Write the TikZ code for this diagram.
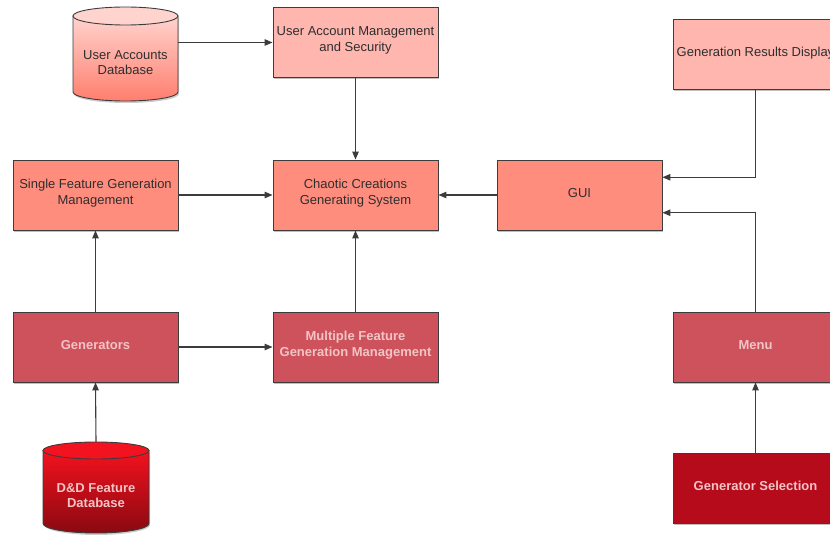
\documentclass[tikz,border=0pt]{standalone}
\usepackage{fontspec}
\setmainfont{Liberation Sans}
\usetikzlibrary{arrows.meta,shadows,calc}

\definecolor{lightpink}{HTML}{FFB6AE}
\definecolor{salmon}{HTML}{FF8D7E}
\definecolor{rose}{HTML}{CD525C}
\definecolor{darkred}{HTML}{B50B1A}
\definecolor{pale}{HTML}{F2C4C6}
\definecolor{edge}{HTML}{3C3C3C}
\definecolor{cylAtop}{HTML}{FFD3CE}
\definecolor{cylAbot}{HTML}{FF7E6E}
\definecolor{cylBtop}{HTML}{F3121F}
\definecolor{cylBbot}{HTML}{8A0910}

\tikzset{
  box/.style={draw=edge, line width=0.9pt, minimum width=165pt, minimum height=70pt,
    inner sep=0pt,
    drop shadow={shadow xshift=1pt, shadow yshift=-2pt, opacity=0.25, fill=black}},
  boxA/.style={box, fill=lightpink},
  boxB/.style={box, fill=salmon},
  boxC/.style={box, fill=rose},
  boxD/.style={box, fill=darkred},
  dtext/.style={align=center, inner sep=0pt, font=\fontsize{13}{15.5}\selectfont, text=black!82},
  ltext/.style={align=center, inner sep=0pt, font=\fontsize{13}{15.5}\selectfont\bfseries, text=pale},
  up/.style={yshift=2pt},
  cylarea/.style={inner sep=0pt},
  cylline/.style={draw=edge, line width=0.9pt},
  conn/.style={draw=edge, line width=1.1pt, -{Triangle[length=8pt,width=6.5pt]}},
}

\begin{document}
\begin{tikzpicture}[x=1pt,y=-1pt]
\useasboundingbox (0,0) rectangle (830,537);
\clip (0,0) rectangle (830,537);

% User Accounts Database cylinder
\fill[black, opacity=0.2] (74,18) -- (74,94) .. controls (74,98.97) and (97.5,103) .. (126.5,103) .. controls (155.5,103) and (179,98.97) .. (179,94) -- (179,18) -- cycle;
\shade[top color=cylAtop, bottom color=cylAbot, cylline]
  (73,16) -- (73,92) .. controls (73,96.97) and (96.5,101) .. (125.5,101)
  .. controls (154.5,101) and (178,96.97) .. (178,92) -- (178,16) -- cycle;
\filldraw[fill=cylAtop, cylline] (125.5,16) ellipse [x radius=52.5, y radius=9];
\node[cylarea, minimum width=105pt, minimum height=94pt] (uadb) at (125.5,54) {};
\node[dtext] (uadbt) at (125.5,62.5) {User Accounts\\Database};

% D&D Feature Database cylinder
\fill[black, opacity=0.2] (44,452.5) -- (44,525) .. controls (44,530.25) and (67.73,535) .. (97,535) .. controls (126.27,535) and (150,530.25) .. (150,525) -- (150,452.5) -- cycle;
\shade[top color=cylBtop, bottom color=cylBbot, cylline]
  (43,450.5) -- (43,523.5) .. controls (43,528.75) and (66.73,533) .. (96,533)
  .. controls (125.27,533) and (149,528.75) .. (149,523.5) -- (149,450.5) -- cycle;
\filldraw[fill=cylBtop, cylline] (96,450.5) ellipse [x radius=53, y radius=8.5];
\node[cylarea, minimum width=106pt, minimum height=91pt] (dnd) at (96,487.5) {};
\node[ltext] (dndt) at (96,495.5) {D\&D Feature\\Database};

% boxes
\node[boxA] (uam) at (355.5,42.5) {};
\node[boxA] (grd) at (755.5,54) {};
\node[boxB] (sfgm) at (95.5,195) {};
\node[boxB] (ccgs) at (355.5,195) {};
\node[boxB] (gui) at (579.5,195) {};
\node[boxC] (gen) at (95.5,347) {};
\node[boxC] (mfgm) at (355.5,347) {};
\node[boxC] (menu) at (755.5,347) {};
\node[boxD] (gsel) at (755.5,488) {};

% box texts
\node[dtext, up] (uamt) at (uam) {User Account Management\\and Security};
\node[dtext, yshift=1pt] (grdt) at (grd) {Generation Results Display};
\node[dtext, up] (sfgmt) at (sfgm) {Single Feature Generation\\Management};
\node[dtext, up] (ccgst) at (ccgs) {Chaotic Creations\\Generating System};
\node[dtext, up] (guit) at (gui) {GUI};
\node[ltext, up] (gent) at (gen) {Generators};
\node[ltext, up] (mfgmt) at (mfgm) {Multiple Feature\\Generation Management};
\node[ltext, up] (menut) at (menu) {Menu};
\node[ltext, up] (gselt) at (gsel) {Generator Selection};

% connectors
\draw[conn] (uadb.east |- uam.west) -- (uam.west);
\draw[conn] (uam.south) -- (ccgs.north);
\draw[conn] (sfgm.east) -- (ccgs.west);
\draw[conn] (gui.west) -- (ccgs.east);
\draw[conn] (gen.north) -- (sfgm.south);
\draw[conn] (gen.east) -- (mfgm.west);
\draw[conn] (mfgm.north) -- (ccgs.south);
\draw[conn] (dnd.north) -- (gen.south);
\draw[conn] (grd.south) |- ($(gui.north east)!0.25!(gui.south east)$);
\draw[conn] (menu.north) |- ($(gui.north east)!0.75!(gui.south east)$);
\draw[conn] (gsel.north) -- (menu.south);
\end{tikzpicture}
\end{document}
